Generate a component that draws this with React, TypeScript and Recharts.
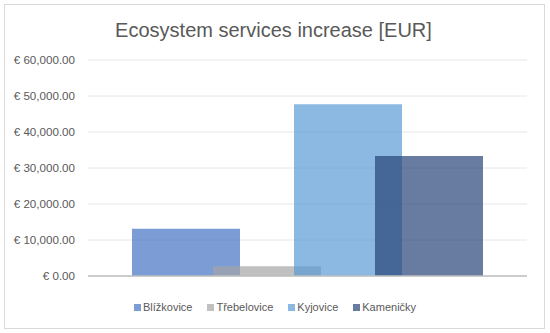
import { BarChart, Bar, XAxis, YAxis, CartesianGrid, Legend } from 'recharts';

const categories = [''];
const seriesNames = ['Blížkovice', 'Třebelovice', 'Kyjovice', 'Kameničky'];
const seriesValues = [13100, 2700, 47700, 33300];
const seriesColors = ['#4472C4', '#A5A5A5', '#5B9BD5', '#264478'];
const yTicks = [0, 10000, 20000, 30000, 40000, 50000, 60000];

const data = categories.map((c) => {
  const row: Record<string, string | number> = { name: c };
  seriesNames.forEach((s, i) => {
    row[s] = seriesValues[i];
  });
  return row;
});

const FONT = '"Liberation Sans", Arial, sans-serif';
const TEXT = '#595959';

const fmt = (v: number) =>
  '€ ' + v.toLocaleString('en-US', { minimumFractionDigits: 2, maximumFractionDigits: 2 });

function LegendContent() {
  return (
    <div style={{ display: 'flex', justifyContent: 'center', alignItems: 'center', fontFamily: FONT, fontSize: 11, color: TEXT, height: 14 }}>
      {seriesNames.map((s, i) => (
        <div key={s} style={{ display: 'flex', alignItems: 'center', marginRight: i < seriesNames.length - 1 ? 15 : 0 }}>
          <span style={{ display: 'inline-block', width: 7, height: 7, background: seriesColors[i], opacity: 0.7, marginRight: 2 }} />
          <span>{s}</span>
        </div>
      ))}
    </div>
  );
}

export default function App() {
  return (
    <div style={{ position: 'absolute', left: 0, top: 0, width: 550, height: 333, background: '#fff', fontFamily: FONT }}>
      <div style={{ position: 'absolute', left: 4, top: 4, width: 541, height: 325, border: '1px solid #d9d9d9', boxSizing: 'border-box' }} />
      <div style={{ position: 'absolute', left: 0, top: 20, width: 547, textAlign: 'center', fontSize: 20, lineHeight: '20px', color: TEXT }}>
        Ecosystem services increase [EUR]
      </div>
      <div style={{ position: 'absolute', left: 0, top: 0 }}>
        <BarChart width={550} height={333} data={data} margin={{ top: 60, right: 23, bottom: 56, left: 0 }} barGap={-27}>
          <CartesianGrid vertical={false} stroke="#e6e6e6" />
          <XAxis dataKey="name" tick={false} tickLine={false} height={1} axisLine={{ stroke: '#bfbfbf', strokeWidth: 1.5 }} />
          <YAxis
            width={88}
            domain={[0, 60000]}
            ticks={yTicks}
            tickFormatter={fmt}
            axisLine={false}
            tickLine={false}
            tickSize={0}
            tickMargin={13}
            interval={0}
            tick={{ fill: TEXT, fontSize: 11.6, fontFamily: FONT }}
          />
          {seriesNames.map((s, i) => (
            <Bar key={s} dataKey={s} name={s} fill={seriesColors[i]} fillOpacity={0.7} barSize={108} isAnimationActive={false} />
          ))}
          <Legend
            layout="horizontal"
            verticalAlign="middle"
            align="center"
            content={<LegendContent />}
            wrapperStyle={{ top: 300, left: 0, width: 550 }}
          />
        </BarChart>
      </div>
    </div>
  );
}
